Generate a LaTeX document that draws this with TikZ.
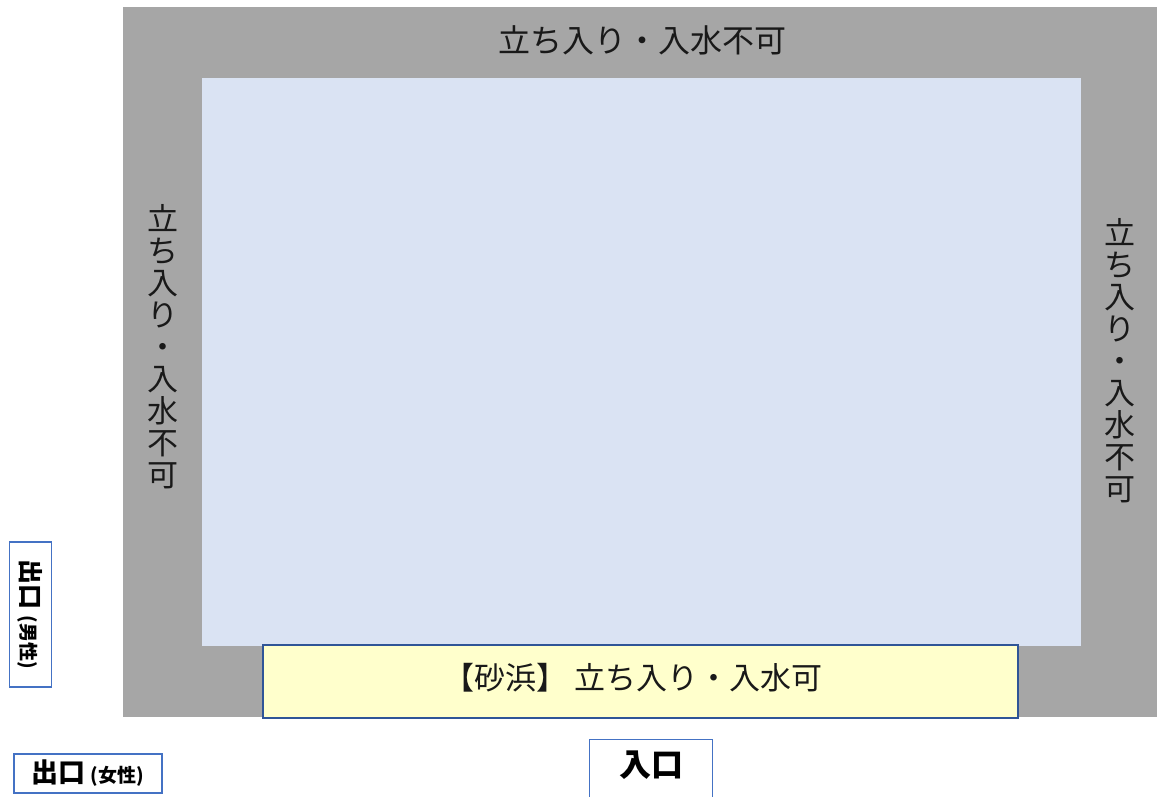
\documentclass[tikz,border=0pt]{standalone}
\usepackage{fontspec}
\setmainfont{Noto Sans CJK JP}
\definecolor{wallgray}{HTML}{A6A6A6}
\definecolor{poolblue}{HTML}{DAE3F3}
\definecolor{sandyellow}{HTML}{FFFFCC}
\definecolor{edgeblue}{HTML}{2F5597}
\definecolor{boxblue}{HTML}{4472C4}
\tikzset{
  lbl/.style={inner sep=0pt, font=\fontsize{32}{32}\selectfont, text=black!90},
  vlbl/.style={inner sep=0pt, align=center, font=\fontsize{31}{32}\selectfont, text=black!90},
  exitbox/.style={draw=boxblue, line width=1.2pt, fill=white},
}
\begin{document}
\begin{tikzpicture}[x=1pt,y=-1pt]
\useasboundingbox (0,0) rectangle (1157,796);
\clip (0,0) rectangle (1157,796);
% wall (no entry zone)
\fill[wallgray] (123,7) rectangle (1157,717);
% pool
\fill[poolblue] (202,78) rectangle (1081,646);
% sand beach
\node[draw=edgeblue, line width=1.5pt, fill=sandyellow, minimum width=755pt, minimum height=73pt, anchor=north west, inner sep=0pt] (sand) at (262,644) {};
\node[inner sep=0pt, font=\fontsize{31}{32}\selectfont, text=black!90] (sandtxt) at (633,678) {【砂浜】 立ち入り・入水可};
% wall labels
\node[lbl] (toplbl) at (642,40) {立ち入り・入水不可};
\node[vlbl] (leftlbl) at (163,347) {立\\ち\\入\\り\\・\\入\\水\\不\\可};
\node[vlbl] (rightlbl) at (1120,361) {立\\ち\\入\\り\\・\\入\\水\\不\\可};
% exits and entrance
\node[exitbox, minimum width=42pt, minimum height=145pt, inner sep=0pt] (exitm) at (30.5,614.5) {};
\node[inner sep=0pt, rotate=-90, font=\bfseries] at (exitm.center) {{\fontsize{25}{26}\selectfont 出口}\hspace{6pt}{\fontsize{19}{20}\selectfont (男性)}};
\node[exitbox, minimum width=148pt, minimum height=39pt, inner sep=0pt] (exitw) at (88,773.5) {};
\node[inner sep=0pt, font=\bfseries] at (exitw.center) {{\fontsize{27}{28}\selectfont 出口}\hspace{5pt}{\fontsize{19}{20}\selectfont (女性)}};
\node[exitbox, minimum width=123pt, minimum height=70pt, anchor=north west, inner sep=0pt] (entr) at (589,739) {};
\node[inner sep=0pt, font=\bfseries\fontsize{32}{34}\selectfont] at (651,765) {入口};
\end{tikzpicture}
\end{document}
